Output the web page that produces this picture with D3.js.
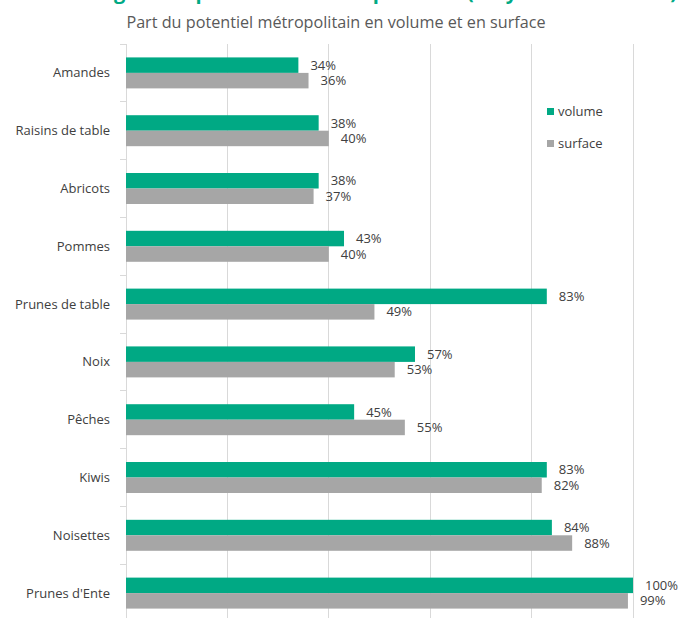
<!DOCTYPE html>
<html lang="fr">
<head>
<meta charset="utf-8">
<script src="https://cdn.jsdelivr.net/npm/d3@7"></script>
<style>
  html, body { margin: 0; padding: 0; background: #ffffff; }
  svg { display: block; }
</style>
</head>
<body>
<svg id="chart" width="680" height="618"></svg>
<script>
// Fruit categories, top to bottom
const categories = ["Amandes", "Raisins de table", "Abricots", "Pommes", "Prunes de table",
                    "Noix", "Pêches", "Kiwis", "Noisettes", "Prunes d'Ente"];
// Share of metropolitan potential (%)
const volume  = [34, 38, 38, 43, 83, 57, 45, 83, 84, 100];
const surface = [36, 40, 37, 40, 49, 53, 55, 82, 88, 99];
const seriesNames = ["volume", "surface"];
const gridTicks = [0, 20, 40, 60, 80, 100];

const colors = { volume: "#00a984", surface: "#a6a6a6" };
const font = "'Open Sans', 'Noto Sans', sans-serif";
const labelSize = 13;

const svg = d3.select("#chart");

// Heading (runs off the top edge of the frame)
svg.append("text")
  .attr("x", 677).attr("y", -1.5)
  .attr("text-anchor", "end")
  .attr("font-family", font).attr("font-weight", 700).attr("font-size", 20)
  .attr("fill", "#00a984")
  .text("Pourcentage de la production métropolitaine (moyenne 2016-2020)");

svg.append("text")
  .attr("x", 336).attr("y", 28)
  .attr("text-anchor", "middle")
  .attr("font-family", font).attr("font-size", 16.2)
  .attr("fill", "#595959")
  .text("Part du potentiel métropolitain en volume et en surface");

const x = d3.scaleLinear().domain([0, 100]).range([126, 633]);
const pad = 0.464;
const y = d3.scaleBand().domain(categories).range([44, 622])
  .paddingInner(pad).paddingOuter(pad / 2);
const ySub = d3.scaleBand().domain(seriesNames).range([0, y.bandwidth()]);

// Vertical gridlines
svg.append("g").selectAll("line").data(gridTicks).join("line")
  .attr("x1", d => x(d)).attr("x2", d => x(d))
  .attr("y1", 44).attr("y2", 618)
  .attr("stroke", "#d9d9d9").attr("stroke-width", 1)
  .attr("shape-rendering", "crispEdges");

// Category tick marks on the axis
const step = y.step();
const boundaries = categories.map(c => y(c) - step * pad / 2);
boundaries.push(boundaries[boundaries.length - 1] + step);
svg.append("g").selectAll("line").data(boundaries).join("line")
  .attr("x1", x(0) - 6).attr("x2", x(0))
  .attr("y1", d => d).attr("y2", d => d)
  .attr("stroke", "#d9d9d9").attr("stroke-width", 1)
  .attr("shape-rendering", "crispEdges");

// Category labels
svg.append("g").selectAll("text").data(categories).join("text")
  .attr("x", 110)
  .attr("y", d => y(d) + y.bandwidth() / 2)
  .attr("dy", "0.35em")
  .attr("text-anchor", "end")
  .attr("font-family", font).attr("font-size", labelSize)
  .attr("fill", "#404040")
  .text(d => d);

const rows = categories.map((c, i) => ({ c, volume: volume[i], surface: surface[i] }));

seriesNames.forEach(s => {
  const g = svg.append("g");
  g.selectAll("rect").data(rows).join("rect")
    .attr("x", x(0))
    .attr("y", d => y(d.c) + ySub(s))
    .attr("width", d => x(d[s]) - x(0))
    .attr("height", ySub.bandwidth())
    .attr("fill", colors[s]);
  g.selectAll("text").data(rows).join("text")
    .attr("x", d => x(d[s]) + 12)
    .attr("y", d => y(d.c) + ySub(s) + ySub.bandwidth() / 2)
    .attr("dy", "0.35em")
    .attr("font-family", font).attr("font-size", labelSize)
    .attr("fill", "#404040")
    .text(d => d[s] + "%");
});

// Legend
const legend = svg.append("g").selectAll("g").data(seriesNames).join("g")
  .attr("transform", (d, i) => `translate(547, ${108 + i * 32})`);
legend.append("rect")
  .attr("width", 7).attr("height", 7)
  .attr("fill", d => colors[d]);
legend.append("text")
  .attr("x", 11).attr("y", 7.5)
  .attr("font-family", font).attr("font-size", labelSize)
  .attr("fill", "#404040")
  .text(d => d);
</script>
</body>
</html>
